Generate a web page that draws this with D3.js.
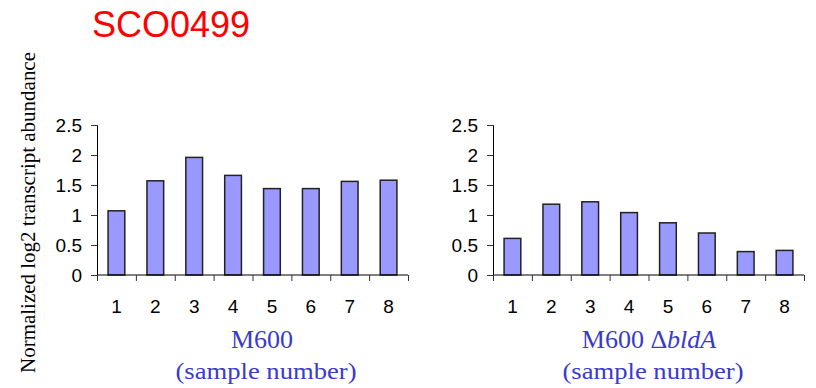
<!DOCTYPE html>
<html>
<head>
<meta charset="utf-8">
<script src="https://cdn.jsdelivr.net/npm/d3@7"></script>
<style>
  html, body { margin: 0; padding: 0; background: #fff; }
  svg { display: block; }
</style>
</head>
<body>
<svg id="chart" width="816" height="388"></svg>
<script>
// Sample numbers shared by both panels
const samples = ["1", "2", "3", "4", "5", "6", "7", "8"];
// Normalized log2 transcript abundance per sample
const wildTypeValues = [1.07, 1.57, 1.96, 1.66, 1.44, 1.44, 1.56, 1.58];
const bldAValues = [0.61, 1.18, 1.22, 1.04, 0.87, 0.70, 0.39, 0.41];
const yTicks = [0, 0.5, 1, 1.5, 2, 2.5];

const geneName = "SCO0499";
const yLabel = "Normalized log2 transcript abundance";

const svg = d3.select("#chart");
const sans = "'Liberation Sans', Arial, sans-serif";
const serif = "'Liberation Serif', 'Times New Roman', serif";
const labelBlue = "#3a3acc";

const y = d3.scaleLinear().domain([0, 2.5]).range([275, 125]);

svg.append("text")
  .attr("x", 92).attr("y", 37)
  .attr("font-family", sans).attr("font-size", 36)
  .attr("fill", "#ff0000")
  .text(geneName);

svg.append("text")
  .attr("transform", "translate(35,212.5) rotate(-90)")
  .attr("text-anchor", "middle")
  .attr("font-family", serif).attr("font-size", 20)
  .attr("textLength", 321).attr("lengthAdjust", "spacingAndGlyphs")
  .attr("fill", "#000")
  .text(yLabel);

function panel(x0, x1, values, titleParts, titleCx, subCx) {
  const g = svg.append("g");
  const x = d3.scaleBand().domain(samples).range([x0, x1])
    .paddingInner(0.57).paddingOuter(0.285);
  const edge = d3.scaleLinear().domain([0, samples.length]).range([x0, x1]);

  // y axis
  const ya = g.append("g").attr("transform", `translate(${x0},0)`)
    .call(d3.axisLeft(y).tickValues(yTicks).tickSize(6).tickPadding(9)
      .tickFormat(d => String(d)));
  ya.select(".domain").attr("stroke", "#000");
  ya.selectAll(".tick line").attr("stroke", "#333");
  ya.selectAll(".tick text").attr("font-family", sans).attr("font-size", 19)
    .attr("fill", "#000");

  // bars
  g.selectAll("rect.bar").data(values).join("rect")
    .attr("class", "bar")
    .attr("x", (d, i) => x(samples[i]))
    .attr("y", d => y(d))
    .attr("width", x.bandwidth())
    .attr("height", d => y(0) - y(d))
    .attr("fill", "#9999ff")
    .attr("stroke", "#222")
    .attr("stroke-width", 1.5);

  // x axis with ticks between categories
  const xa = g.append("g").attr("transform", `translate(0,${y(0)})`)
    .call(d3.axisBottom(edge).tickValues(d3.range(samples.length + 1))
      .tickSize(6).tickFormat(""));
  xa.select(".domain").attr("stroke", "#000").attr("d", `M${x0},0H${x1}`);
  xa.selectAll(".tick line").attr("stroke", "#333");

  g.selectAll("text.xl").data(samples).join("text")
    .attr("class", "xl")
    .attr("x", d => x(d) + x.bandwidth() / 2)
    .attr("y", 313)
    .attr("text-anchor", "middle")
    .attr("font-family", sans).attr("font-size", 19)
    .attr("fill", "#000")
    .text(d => d);

  const t = g.append("text")
    .attr("x", titleCx).attr("y", 348)
    .attr("text-anchor", "middle")
    .attr("font-family", serif).attr("font-size", 26)
    .attr("fill", labelBlue);
  titleParts.forEach(p => {
    t.append("tspan").attr("font-style", p.italic ? "italic" : null).text(p.text);
  });

  g.append("text")
    .attr("x", subCx).attr("y", 379)
    .attr("text-anchor", "middle")
    .attr("font-family", serif).attr("font-size", 24)
    .attr("textLength", 181).attr("lengthAdjust", "spacingAndGlyphs")
    .attr("fill", labelBlue)
    .text("(sample number)");
}

panel(97, 408, wildTypeValues, [{ text: "M600" }], 262, 266);
panel(493, 804, bldAValues, [{ text: "M600 Δ" }, { text: "bldA", italic: true }], 649, 653);
</script>
</body>
</html>
